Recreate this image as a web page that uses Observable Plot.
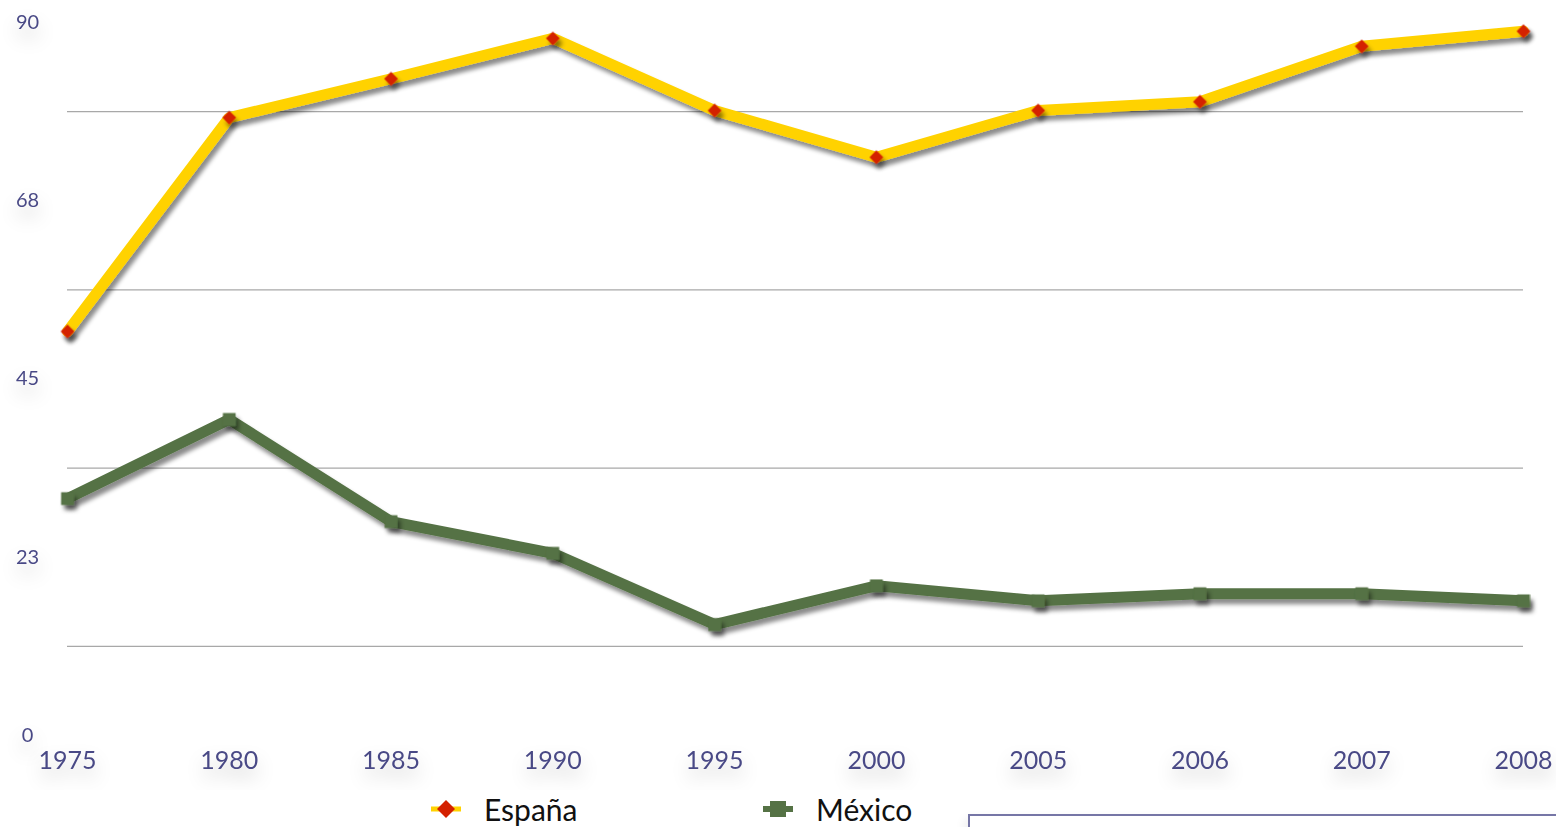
<!DOCTYPE html>
<html>
<head>
<meta charset="utf-8">
<script src="https://cdn.jsdelivr.net/npm/d3@7"></script>
<script src="https://cdn.jsdelivr.net/npm/@observablehq/plot@0.6"></script>
<style>
  html, body { margin: 0; padding: 0; background: #fff; overflow: hidden; }
  #wrap { position: relative; width: 1556px; height: 827px; }
  #legend { position: absolute; left: 0; top: 790px; width: 1556px; height: 37px; font-family: Lato, "Open Sans", sans-serif; font-size: 30px; color: #111; }
  .item { position: absolute; top: 0; display: flex; align-items: center; height: 37px; }
  .item svg { margin-right: 22px; }
  #box { position: absolute; left: 968px; top: 814px; width: 600px; height: 30px; border-top: 2px solid #7676a6; border-left: 2px solid #7676a6; box-shadow: -4px 4px 10px rgba(0,0,0,0.06); }
</style>
</head>
<body>
<div id="wrap">
  <div id="chart"></div>
  <div id="legend">
    <div class="item" style="left:430px;">
      <svg width="32" height="24"><line x1="1" y1="12" x2="31" y2="12" stroke="#FFD200" stroke-width="5"/><polygon points="16,3 25,12 16,21 7,12" fill="#D42000"/></svg>
      <span>España</span>
    </div>
    <div class="item" style="left:762px;">
      <svg width="32" height="24"><line x1="1" y1="12" x2="31" y2="12" stroke="#557245" stroke-width="6"/><rect x="8" y="4" width="16" height="16" fill="#557245"/></svg>
      <span>México</span>
    </div>
  </div>
  <div id="box"></div>
</div>
<script>
const years = ["1975","1980","1985","1990","1995","2000","2005","2006","2007","2008"];
const espana = [51.0, 78.0, 82.9, 88.0, 78.9, 73.0, 78.9, 80.0, 87.0, 88.9];
const mexico = [29.9, 39.9, 27.0, 23.0, 14.0, 18.9, 17.0, 17.9, 17.9, 17.0];
const yTicks = [0, 22.5, 45, 67.5, 90];
const yTickLabels = ["0", "23", "45", "68", "90"];
const gridValues = [11.25, 33.75, 56.25, 78.75];

const esData = years.map((y, i) => ({year: y, value: espana[i]}));
const mxData = years.map((y, i) => ({year: y, value: mexico[i]}));
const yLab = yTicks.map((v, i) => ({value: v, label: yTickLabels[i]}));

const labelColor = "#4a4a86";
const font = "Lato, 'Open Sans', sans-serif";

const chart = Plot.plot({
  width: 1556,
  height: 790,
  marginLeft: 67,
  marginRight: 33,
  marginTop: 22,
  marginBottom: 55,
  style: {fontFamily: font, background: "transparent"},
  x: {type: "point", domain: years, padding: 0, round: false, axis: null},
  y: {domain: [0, 90], axis: null},
  marks: [
    Plot.ruleY(gridValues, {stroke: "#a8a8a8", strokeWidth: 1.2}),
    Plot.text(yLab, {y: "value", text: "label", frameAnchor: "left", dx: -40, textAnchor: "middle", fontSize: 20, fill: labelColor, className: "shadowtext"}),
    Plot.text(years, {x: d => d, text: d => d, frameAnchor: "bottom", dy: 33, fontSize: 25, fill: labelColor, className: "shadowtext"}),
    Plot.line(esData, {x: "year", y: "value", stroke: "#FFD200", strokeWidth: 11, strokeLinejoin: "miter", className: "shadowline"}),
    Plot.dot(esData, {x: "year", y: "value", symbol: "diamond2", r: 6.2, fill: "#D42000", stroke: "none", className: "shadowline"}),
    Plot.line(mxData, {x: "year", y: "value", stroke: "#557245", strokeWidth: 11, strokeLinejoin: "miter", className: "shadowline"}),
    Plot.dot(mxData, {x: "year", y: "value", symbol: "square", r: 7.2, fill: "#557245", stroke: "none", className: "shadowline"})
  ]
});

const ns = "http://www.w3.org/2000/svg";
const defs = document.createElementNS(ns, "defs");
defs.innerHTML = `
  <filter id="lineShadow" x="-10%" y="-10%" width="130%" height="140%">
    <feDropShadow dx="3" dy="5" stdDeviation="2" flood-color="#000" flood-opacity="0.45"/>
  </filter>
  <filter id="textShadow" x="-100%" y="-100%" width="300%" height="400%">
    <feDropShadow dx="0" dy="10" stdDeviation="9" flood-color="#000" flood-opacity="0.22"/>
  </filter>`;
chart.insertBefore(defs, chart.firstChild);
chart.querySelectorAll(".shadowline").forEach(g => g.setAttribute("filter", "url(#lineShadow)"));
chart.querySelectorAll(".shadowtext").forEach(g => g.setAttribute("filter", "url(#textShadow)"));
document.getElementById("chart").appendChild(chart);
</script>
</body>
</html>
